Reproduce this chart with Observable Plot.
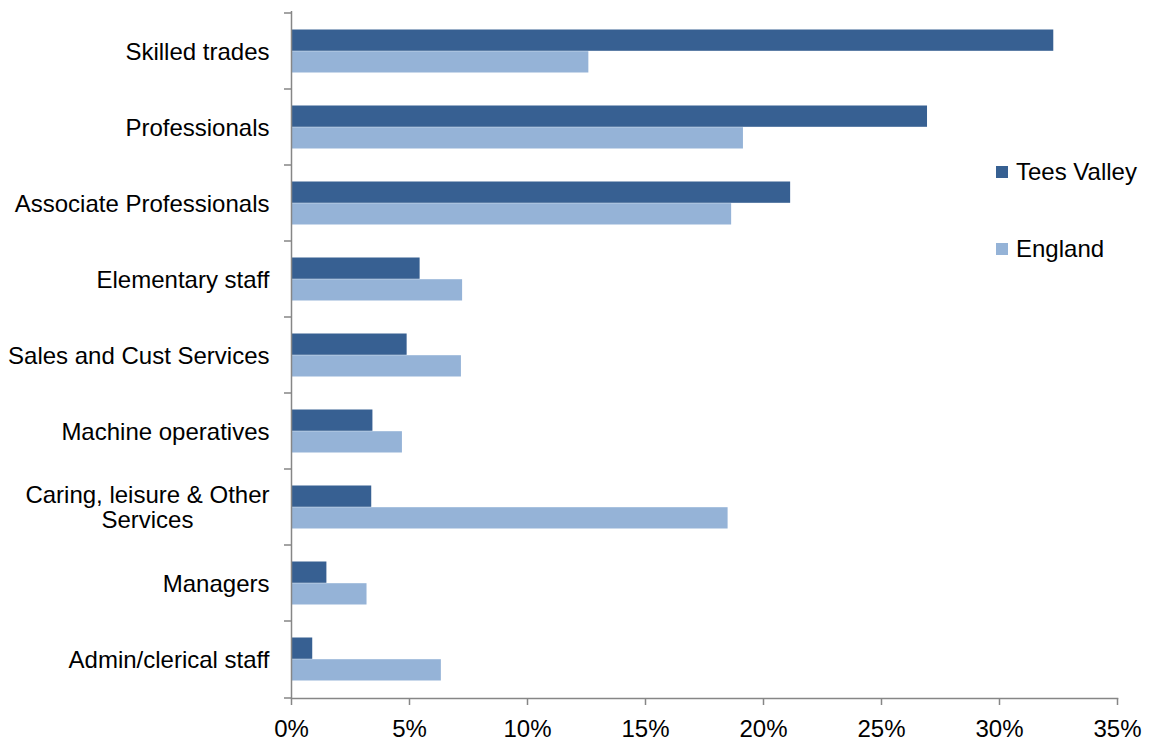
<!DOCTYPE html>
<html>
<head>
<meta charset="utf-8">
<script src="https://cdn.jsdelivr.net/npm/d3@7"></script>
<script src="https://cdn.jsdelivr.net/npm/@observablehq/plot@0.6"></script>
<style>
  body { margin: 0; background: #fff; font-family: "Liberation Sans", Arial, sans-serif; }
  #wrap { position: relative; width: 1150px; height: 742px; }
  .leg { position: absolute; left: 996px; height: 28px; line-height: 28px; font-size: 24px; color: #000; display: flex; align-items: center; white-space: nowrap; }
  .leg .sw { width: 12px; height: 12px; margin-right: 8px; }
</style>
</head>
<body>
<div id="wrap"></div>
<script>
const categories = [
  "Skilled trades",
  "Professionals",
  "Associate Professionals",
  "Elementary staff",
  "Sales and Cust Services",
  "Machine operatives",
  "Caring, leisure & Other Services",
  "Managers",
  "Admin/clerical staff"
];
const teesValley = [32.3, 26.95, 21.15, 5.45, 4.9, 3.45, 3.4, 1.5, 0.9];
const england    = [12.6, 19.15, 18.65, 7.25, 7.2, 4.7, 18.5, 3.2, 6.35];
const seriesNames = ["Tees Valley", "England"];
const seriesColors = ["#376092", "#95B3D7"];
const xTicks = [0, 5, 10, 15, 20, 25, 30, 35];

const rows = [];
categories.forEach((c, i) => {
  rows.push({category: c, series: seriesNames[0], value: teesValley[i]});
  rows.push({category: c, series: seriesNames[1], value: england[i]});
});

const axisColor = "#868686";

function labelFormat(d) {
  if (d.length > 26) {
    const k = d.lastIndexOf(" ");
    return d.slice(0, k) + "\n" + d.slice(k + 1);
  }
  return d;
}

// boundary tick marks on the category axis (between bands)
function bandTicks(index, scales, values, dims) {
  const g = d3.create("svg:g").attr("stroke", axisColor).attr("stroke-width", 1.5);
  const ys = categories.map(c => scales.y(c));
  ys.push(dims.height - dims.marginBottom);
  for (const y of ys) {
    g.append("line")
      .attr("x1", dims.marginLeft - 7).attr("x2", dims.marginLeft)
      .attr("y1", y).attr("y2", y);
  }
  return g.node();
}

const chart = Plot.plot({
  width: 1150,
  height: 742,
  marginLeft: 291,
  marginRight: 33,
  marginTop: 11,
  marginBottom: 44,
  style: {fontFamily: "'Liberation Sans', Arial, sans-serif", fontSize: "24px", color: "#000", background: "#fff"},
  x: {domain: [0, 35]},
  y: {domain: categories, padding: 0},
  color: {domain: seriesNames, range: seriesColors},
  marks: [
    Plot.barX(rows.filter(d => d.series === seriesNames[0]), {
      x: "value", y: "category", fill: "series",
      insetTop: 16.5, insetBottom: 38.2
    }),
    Plot.barX(rows.filter(d => d.series === seriesNames[1]), {
      x: "value", y: "category", fill: "series",
      insetTop: 38.2, insetBottom: 16.5
    }),
    Plot.ruleX([0], {stroke: axisColor, strokeWidth: 1.5}),
    Plot.frame({anchor: "bottom", stroke: axisColor, strokeWidth: 1.5}),
    bandTicks,
    Plot.axisX({
      ticks: xTicks, tickFormat: d => d + "%", tickSize: 7, tickPadding: 14,
      stroke: axisColor, strokeWidth: 1.5, fill: "#000", fontSize: 24, label: null
    }),
    Plot.axisY({
      tickSize: 0, tickPadding: 22, tickFormat: labelFormat,
      fill: "#000", fontSize: 24, lineHeight: 1.06, label: null
    })
  ]
});

const wrap = document.getElementById("wrap");
wrap.appendChild(chart);

// center multi-line category labels like the original
chart.querySelectorAll('g[aria-label="y-axis tick label"] text').forEach(t => {
  const spans = t.querySelectorAll("tspan");
  if (spans.length > 1) {
    const bb = t.getBBox();
    const cx = bb.x + bb.width / 2;
    t.setAttribute("text-anchor", "middle");
    spans.forEach(s => s.setAttribute("x", cx));
  }
});

// legend
const legendTops = [158, 235];
seriesNames.forEach((name, i) => {
  const div = document.createElement("div");
  div.className = "leg";
  div.style.top = legendTops[i] + "px";
  const sw = document.createElement("span");
  sw.className = "sw";
  sw.style.background = seriesColors[i];
  const tx = document.createElement("span");
  tx.textContent = name;
  div.appendChild(sw);
  div.appendChild(tx);
  wrap.appendChild(div);
});
</script>
</body>
</html>
